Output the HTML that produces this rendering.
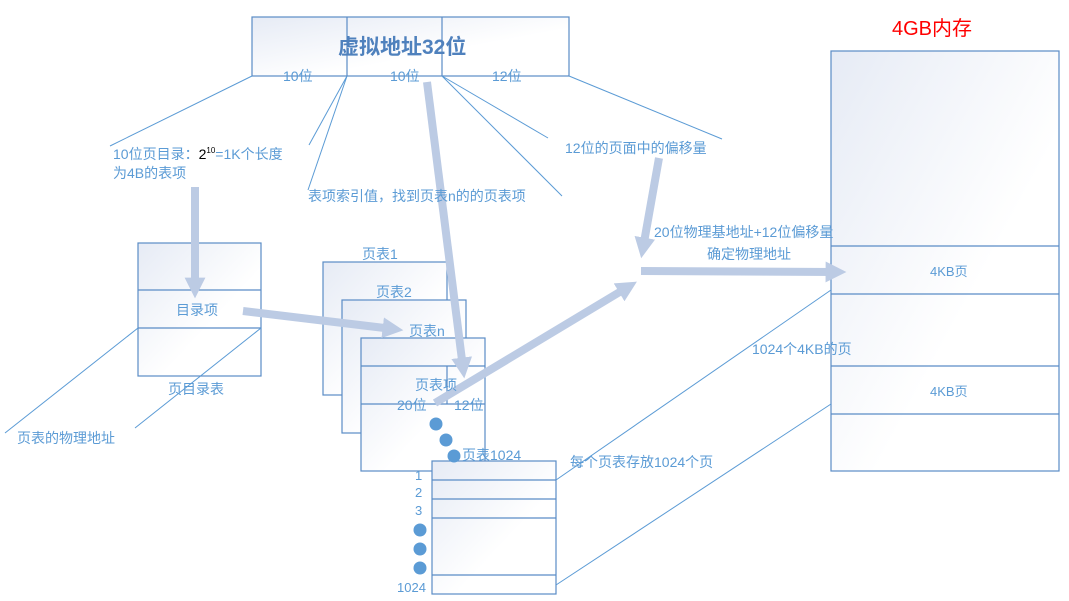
<!DOCTYPE html>
<html><head><meta charset="utf-8"><style>
body{margin:0;background:#fff}
svg{display:block}
text{font-family:"Liberation Sans","Noto Sans CJK SC",sans-serif;fill:#5b9bd5;font-size:14px}
</style></head><body>
<svg width="1069" height="601" viewBox="0 0 1069 601" xmlns="http://www.w3.org/2000/svg">
<defs>
<linearGradient id="g" x1="0" y1="0" x2="1" y2="1"><stop offset="0" stop-color="#e6ebf5"/><stop offset="0.6" stop-color="#fff"/></linearGradient>
<marker id="ah" markerWidth="2.6" markerHeight="2.6" refX="1.3" refY="1.3" orient="auto"><path d="M0,0 L2.6,1.3 L0,2.6z" fill="#bccbe4"/></marker>
</defs>
<g stroke="#5a8cc6" stroke-width="1.2" fill="url(#g)">
<rect x="252" y="17" width="317" height="59"/>
<line x1="347" y1="17" x2="347" y2="76"/><line x1="442" y1="17" x2="442" y2="76"/>
<rect x="831" y="51" width="228" height="420"/>
<line x1="831" y1="246" x2="1059" y2="246"/><line x1="831" y1="294" x2="1059" y2="294"/>
<line x1="831" y1="366" x2="1059" y2="366"/><line x1="831" y1="414" x2="1059" y2="414"/>
<rect x="138" y="243" width="123" height="133"/>
<line x1="138" y1="290" x2="261" y2="290"/><line x1="138" y1="328" x2="261" y2="328"/>
<rect x="323" y="262" width="124" height="133"/>
<rect x="342" y="300" width="124" height="133"/>
<rect x="361" y="338" width="124" height="133"/>
<line x1="361" y1="366" x2="485" y2="366"/><line x1="361" y1="404" x2="485" y2="404"/>
<line x1="447" y1="366" x2="447" y2="404"/>
<rect x="432" y="461" width="124" height="133"/>
<line x1="432" y1="480" x2="556" y2="480"/><line x1="432" y1="499" x2="556" y2="499"/>
<line x1="432" y1="518" x2="556" y2="518"/><line x1="432" y1="575" x2="556" y2="575"/>
</g>
<g stroke="#5b9bd5" stroke-width="1" fill="none">
<line x1="252" y1="76" x2="110" y2="146"/>
<line x1="347" y1="76" x2="309" y2="145"/><line x1="347" y1="76" x2="308" y2="190"/>
<line x1="442" y1="76" x2="562" y2="196"/><line x1="442" y1="76" x2="548" y2="138"/>
<line x1="569" y1="76" x2="722" y2="139"/>
<line x1="138" y1="328" x2="5" y2="433"/><line x1="261" y1="328" x2="135" y2="428"/>
<line x1="556" y1="480" x2="831" y2="290"/><line x1="556" y1="585" x2="831" y2="404"/>
</g>
<g stroke="#bccbe4" stroke-width="8" marker-end="url(#ah)">
<line x1="195" y1="187" x2="195" y2="288"/>
<line x1="243" y1="311" x2="393" y2="329"/>
<line x1="427" y1="82" x2="463" y2="368"/>
<line x1="435" y1="403" x2="628" y2="287"/>
<line x1="659" y1="158" x2="643" y2="248"/>
<line x1="641" y1="271" x2="836" y2="272"/>
</g>
<g fill="#5b9bd5">
<circle cx="436" cy="424" r="6.5"/><circle cx="446" cy="440" r="6.5"/><circle cx="454" cy="456" r="6.5"/>
<circle cx="420" cy="530" r="6.5"/><circle cx="420" cy="549" r="6.5"/><circle cx="420" cy="568" r="6.5"/>
</g>
<text x="338" y="54" style="font-size:21px;font-weight:bold;fill:#4f81bd">虚拟地址32位</text>
<text x="283" y="81">10位</text>
<text x="390" y="81">10位</text>
<text x="492" y="81">12位</text>
<text x="892" y="35" style="font-size:20px;fill:#f00">4GB内存</text>
<text x="113" y="159">10位页目录：<tspan style="fill:#000">2</tspan><tspan dy="-6" style="font-size:8px;fill:#000">10</tspan><tspan dy="6">=1K个长度</tspan></text>
<text x="113" y="178">为4B的表项</text>
<text x="308" y="201">表项索引值，找到页表n的的页表项</text>
<text x="565" y="153">12位的页面中的偏移量</text>
<text x="654" y="237">20位物理基地址+12位偏移量</text>
<text x="707" y="259">确定物理地址</text>
<text x="176" y="315">目录项</text>
<text x="168" y="394">页目录表</text>
<text x="17" y="443">页表的物理地址</text>
<text x="362" y="259">页表1</text>
<text x="376" y="297">页表2</text>
<text x="409" y="336">页表n</text>
<text x="415" y="390">页表项</text>
<text x="397" y="410">20位</text>
<text x="454" y="410">12位</text>
<text x="462" y="460">页表1024</text>
<text x="415" y="480" style="font-size:13px">1</text>
<text x="415" y="497" style="font-size:13px">2</text>
<text x="415" y="515" style="font-size:13px">3</text>
<text x="397" y="592" style="font-size:13px">1024</text>
<text x="570" y="467">每个页表存放1024个页</text>
<text x="752" y="354">1024个4KB的页</text>
<text x="930" y="276" style="font-size:13px">4KB页</text>
<text x="930" y="396" style="font-size:13px">4KB页</text>
</svg>
</body></html>
